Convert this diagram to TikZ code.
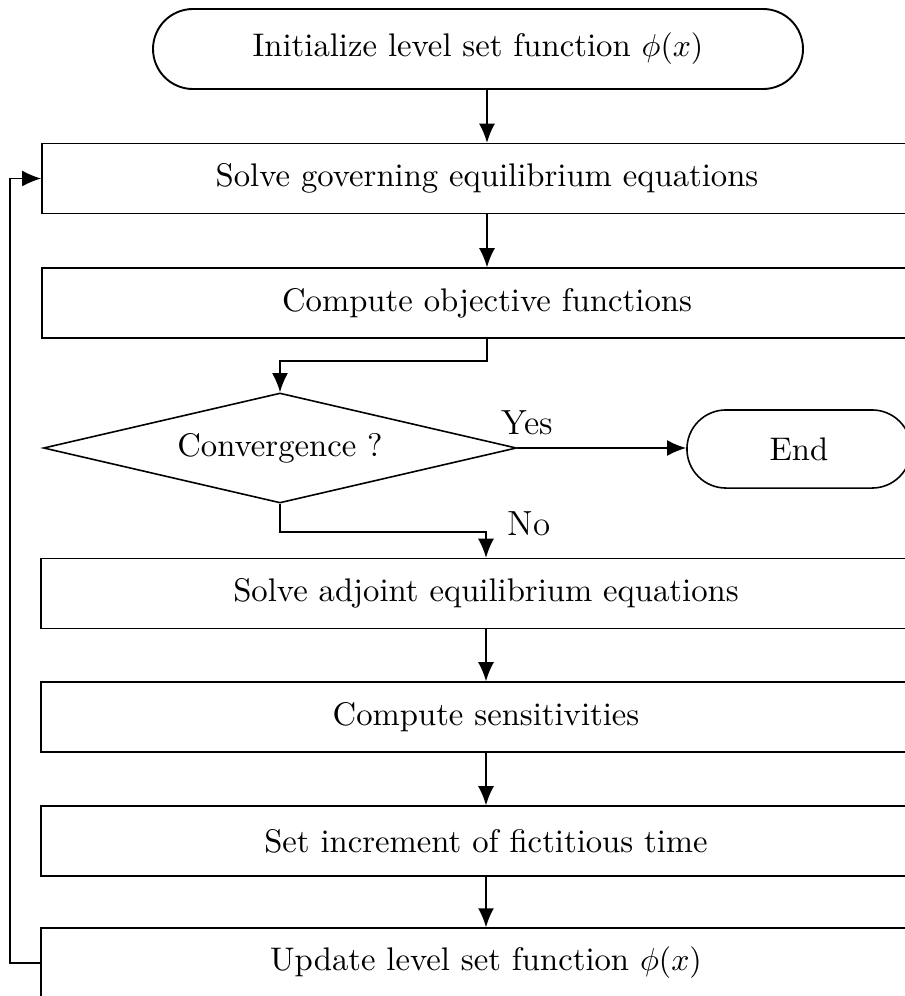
\documentclass[tikz,border=0pt]{standalone}
\usetikzlibrary{shapes.geometric,arrows.meta,calc}
\begin{document}
\begin{tikzpicture}[x=0.315pt,y=-0.315pt,
  every node/.style={font=\fontsize{10.3}{12}\selectfont},
  box/.style={draw, rectangle, minimum width=280.35pt, minimum height=22pt, inner sep=0pt, line width=0.5pt},
  termbox/.style={draw, rectangle, rounded corners=12.6pt, minimum width=204.75pt, minimum height=25.2pt, inner sep=0pt, line width=0.6pt},
  endbox/.style={draw, rectangle, rounded corners=12.3pt, minimum width=70.6pt, minimum height=24.6pt, inner sep=0pt, line width=0.5pt},
  decision/.style={draw, diamond, minimum width=149pt, minimum height=34.65pt, inner sep=0pt, aspect=4.3, line width=0.5pt},
  lbl/.style={font=\fontsize{11}{13}\selectfont, inner sep=0pt},
  arr/.style={-{Latex[length=6pt,width=5pt]}, line width=0.5pt}
]
\useasboundingbox (0,0) rectangle (905,996);
\clip (0,0) rectangle (905,996);
\node[termbox] (init) at (478,49) {Initialize level set function $\phi(x)$};
\node[box] (b1) at (487,178.5) {Solve governing equilibrium equations};
\node[box] (b2) at (487,303) {Compute objective functions};
\node[decision] (conv) at (280,448) {Convergence ?};
\node[endbox] (fin) at (799,449) {End};
\node[box] (b3) at (486,593.5) {Solve adjoint equilibrium equations};
\node[box] (b4) at (486,717) {Compute sensitivities};
\node[box] (b5) at (486,841) {Set increment of fictitious time};
\node[box] (b6) at (486,963) {Update level set function $\phi(x)$};
\node[lbl] (yes) at (527,423) {Yes};
\node[lbl] (no) at (529,524) {No};
\draw[arr] (b1.north |- init.south) -- (b1.north);
\draw[arr] (b1.south) -- (b2.north);
\draw[arr] (b2.south) -- ++(0,22) -| (conv.north);
\draw[arr] (conv.east) -- (fin.west |- conv.east);
\draw[arr] (conv.south) -- ++(0,28) -| (b3.north);
\draw[arr] (b3.south) -- (b4.north);
\draw[arr] (b4.south) -- (b5.north);
\draw[arr] (b5.south) -- (b6.north);
\draw[arr] (b6.west) -- ++(-30,0) |- (b1.west);
\end{tikzpicture}
\end{document}
